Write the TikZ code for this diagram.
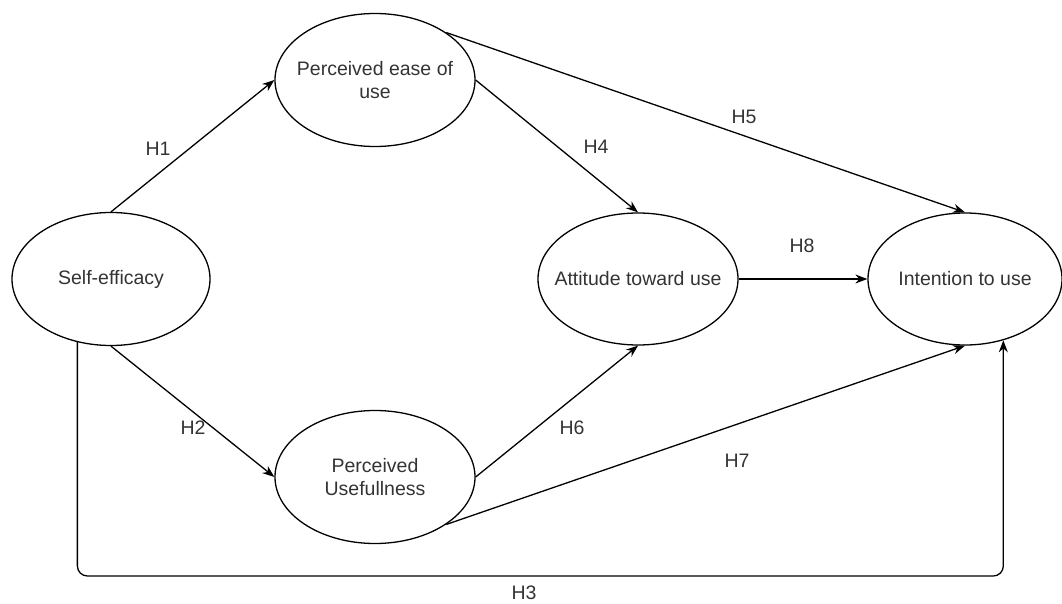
\documentclass[tikz,border=0pt]{standalone}
\usepackage{fontspec}
\setmainfont{Liberation Sans}
\usepackage{tikz}
\usetikzlibrary{shapes.geometric, arrows.meta, positioning}
\usepackage{xcolor}
\definecolor{labelgray}{HTML}{333333}

\begin{document}
\begin{tikzpicture}[x=1pt, y=-1pt,
        construct/.style={draw, ellipse, line width=1.3pt, inner xsep=-14pt, inner ysep=0pt,
            minimum width=200pt, minimum height=133pt, align=center,
            font=\fontsize{19.5}{23}\selectfont, text=labelgray},
        hyp/.style={inner sep=0pt, font=\fontsize{19.5}{23}\selectfont, text=labelgray}]
            \useasboundingbox (0,0) rectangle (1062,604);
            % constructs
            \node[construct, minimum width=198pt] (se) at (111,279) {Self-efficacy};
            \node[construct] (peou) at (375,80) {Perceived ease of\\use};
            \node[construct] (pu) at (375,477) {Perceived\\Usefullness};
            \node[construct, minimum height=132pt] (att) at (638,279) {Attitude toward use};
            \node[construct, minimum width=194pt, minimum height=132pt] (itu) at (965,279) {Intention to use};
            \coordinate (h3turn) at (540,576);
            \begin{scope} [-{Stealth[length=12pt, width=9pt]}, line width=1.3pt]
            \draw (se.north) -- (peou.west);
            \draw (se.south) -- (pu.west);
            \draw (peou.east) -- (att.north);
            \draw (peou.north east) -- (itu.north);
            \draw (pu.east) -- (att.south);
            \draw (pu.south east) -- (itu.south);
            \draw (att.east) -- (itu.west);
            \draw[rounded corners=10pt] (se.242) |- (h3turn) -| (itu.302);
            \end{scope}
            % hypothesis labels
            \node[hyp] (h1) at (158,149) {H1};
            \node[hyp] (h2) at (193,428) {H2};
            \node[hyp] (h3) at (524,593) {H3};
            \node[hyp] (h4) at (596,147) {H4};
            \node[hyp] (h5) at (744,117) {H5};
            \node[hyp] (h6) at (572,428) {H6};
            \node[hyp] (h7) at (737,461) {H7};
            \node[hyp] (h8) at (802,246) {H8};
        \end{tikzpicture}
\end{document}
